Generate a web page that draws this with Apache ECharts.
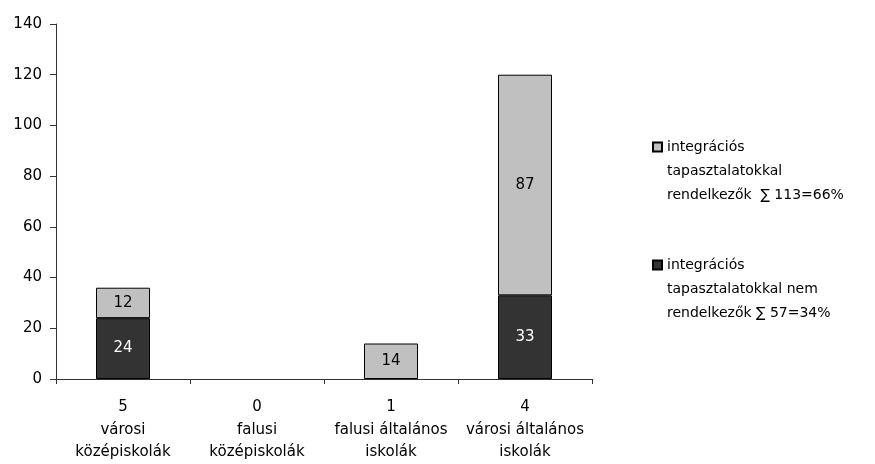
<!DOCTYPE html>
<html><head><meta charset="utf-8">
<script src="https://cdn.jsdelivr.net/npm/echarts@6/dist/echarts.min.js"></script>
<style>html,body{margin:0;padding:0;background:#fff}#c{width:875px;height:464px}</style>
</head><body><div id="c"></div>
<script>
const categories = ['5\nvárosi\nközépiskolák', '0\nfalusi\nközépiskolák', '1\nfalusi általános\niskolák', '4\nvárosi általános\niskolák'];
const withoutExperience = [24, 0, 0, 33];
const withExperience = [12, 0, 14, 87];
const nameWith = 'integrációs\ntapasztalatokkal\nrendelkezők  ∑ 113=66%';
const nameWithout = 'integrációs\ntapasztalatokkal nem\nrendelkezők ∑ 57=34%';
const yTicks = {min: 0, max: 140, interval: 20};

const font = 'DejaVu Sans';
const chart = echarts.init(document.getElementById('c'));
const lbl = (color) => ({show: true, position: 'inside', color: color, fontFamily: font, fontSize: 15,
  formatter: p => p.value ? String(p.value) : ''});
const nz = arr => arr.map(v => v === 0 ? null : v);
chart.setOption({
  animation: false,
  grid: {left: 56, right: 283, top: 24, bottom: 85},
  xAxis: {type: 'category', data: categories,
    axisLine: {lineStyle: {color: '#333'}},
    axisTick: {show: true, alignWithLabel: false, length: 5, lineStyle: {color: '#333'}},
    axisLabel: {color: '#000', fontFamily: font, fontSize: 15, lineHeight: 22.5, margin: 17, interval: 0}},
  yAxis: {type: 'value', min: yTicks.min, max: yTicks.max, interval: yTicks.interval,
    splitLine: {show: false},
    axisLine: {show: true, lineStyle: {color: '#333'}},
    axisTick: {show: true, inside: false, length: 6, lineStyle: {color: '#333'}},
    axisLabel: {color: '#000', fontFamily: font, fontSize: 15, margin: 14}},
  legend: {orient: 'vertical', left: 652, top: 87, padding: 0, itemGap: -2, itemWidth: 9, itemHeight: 9,
    icon: 'rect', data: [nameWith, nameWithout],
    formatter: n => '\n\n' + n,
    textStyle: {fontFamily: font, fontSize: 14, lineHeight: 24, color: '#000'}},
  series: [
    {name: nameWithout, type: 'bar', stack: 's', data: nz(withoutExperience), barWidth: 54,
      itemStyle: {color: '#333333', borderColor: '#000', borderWidth: 1}, label: lbl('#fff')},
    {name: nameWith, type: 'bar', stack: 's', data: nz(withExperience), barWidth: 54,
      itemStyle: {color: '#c0c0c0', borderColor: '#000', borderWidth: 1}, label: lbl('#000')}
  ]
});
</script></body></html>
